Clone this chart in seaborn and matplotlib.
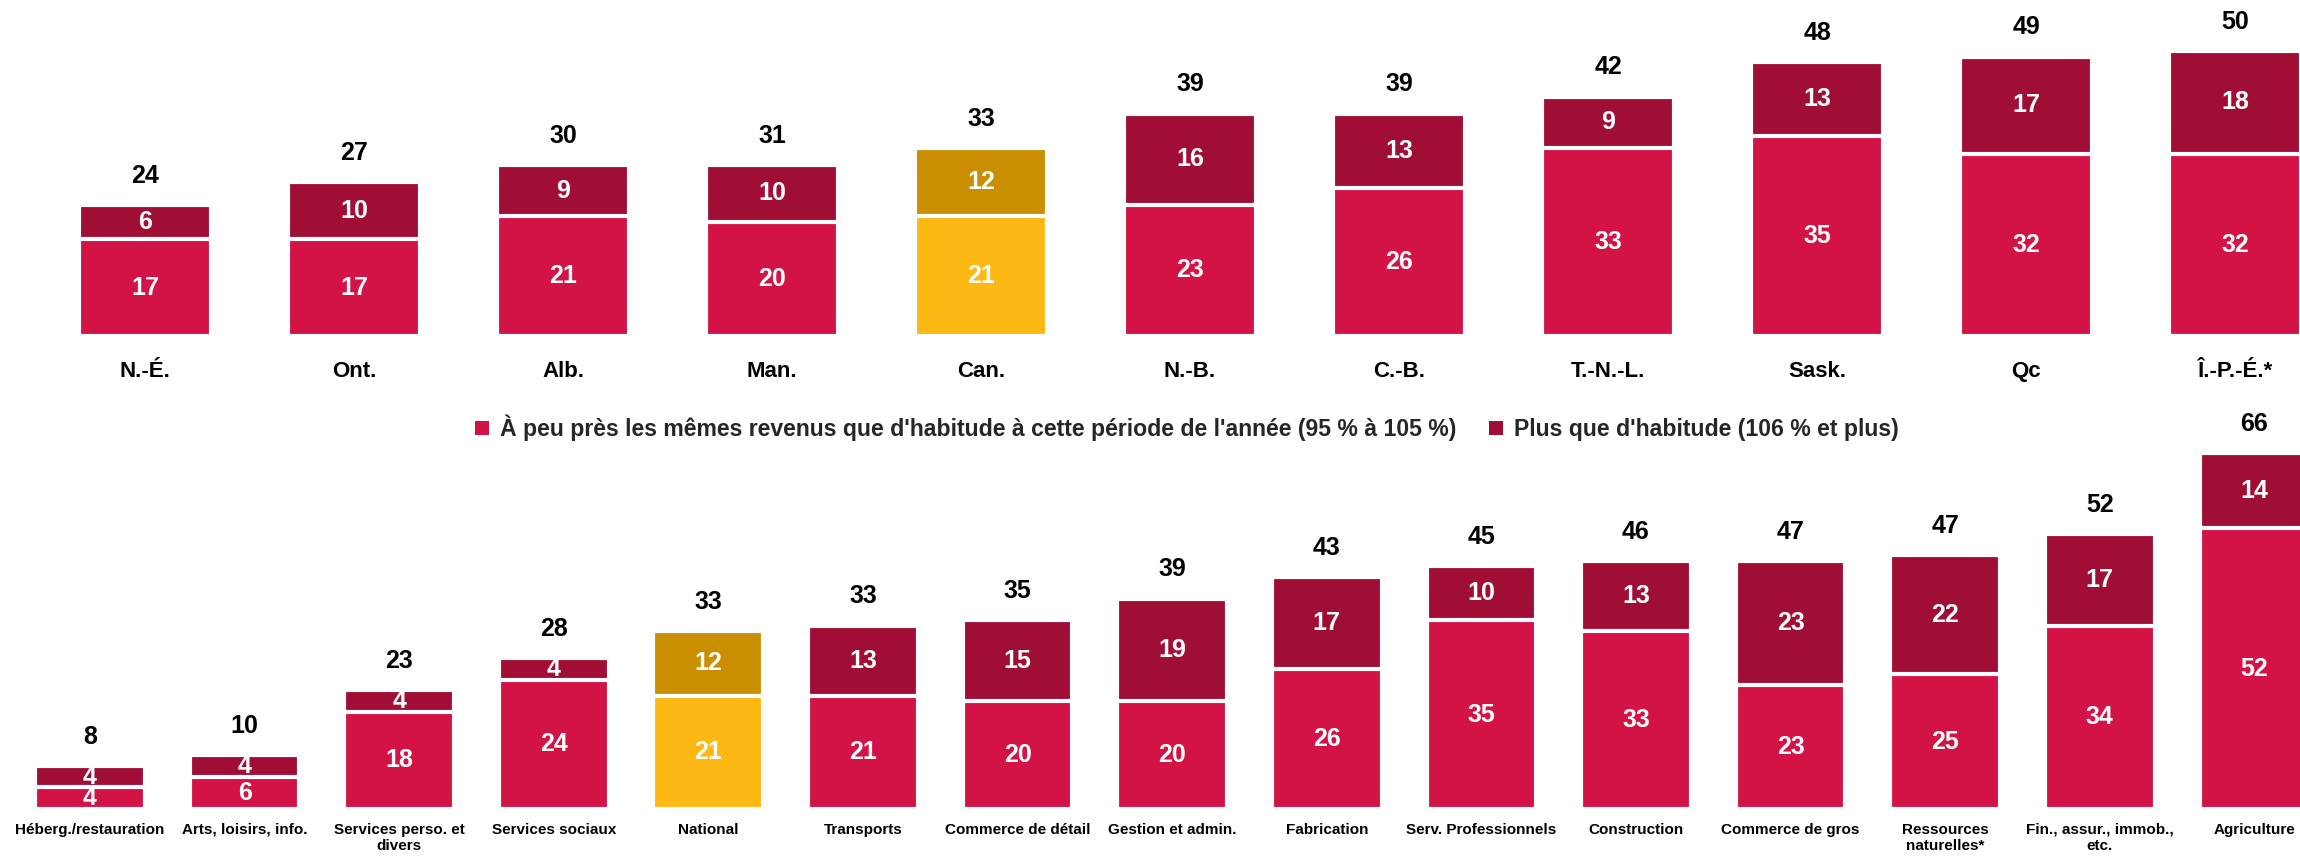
import matplotlib
matplotlib.use('Agg')
import matplotlib.pyplot as plt
from matplotlib.patches import Patch
import seaborn as sns

sns.set_theme(style='white')
plt.rcParams['font.family'] = ['Liberation Sans', 'DejaVu Sans']
plt.rcParams['font.weight'] = 'bold'

# provinces
prov = ['N.-É.', 'Ont.', 'Alb.', 'Man.', 'Can.', 'N.-B.', 'C.-B.', 'T.-N.-L.', 'Sask.', 'Qc', 'Î.-P.-É.*']
prov_same = [17, 17, 21, 20, 21, 23, 26, 33, 35, 32, 32]
prov_more = [6, 10, 9, 10, 12, 16, 13, 9, 13, 17, 18]
prov_total = [24, 27, 30, 31, 33, 39, 39, 42, 48, 49, 50]

# industries
ind = ['Héberg./restauration', 'Arts, loisirs, info.', 'Services perso. et\ndivers', 'Services sociaux',
       'National', 'Transports', 'Commerce de détail', 'Gestion et admin.', 'Fabrication',
       'Serv. Professionnels', 'Construction', 'Commerce de gros', 'Ressources\nnaturelles*',
       'Fin., assur., immob.,\netc.', 'Agriculture']
ind_same = [4, 6, 18, 24, 21, 21, 20, 20, 26, 35, 33, 23, 25, 34, 52]
ind_more = [4, 4, 4, 4, 12, 13, 15, 19, 17, 10, 13, 23, 22, 17, 14]
ind_total = [8, 10, 23, 28, 33, 33, 35, 39, 43, 45, 46, 47, 47, 52, 66]

RED = '#D31245'
DARK = '#A00D35'
YEL = '#FDB813'
GOLD = '#C98F00'
highlight = ['Can.', 'National']


def stacked(ax, cats, same, more, total, width, xlim, ylim, fs_in, fs_tick, pad):
    both = [a + b for a, b in zip(same, more)]
    pal_top = {c: (GOLD if c in highlight else DARK) for c in cats}
    pal_low = {c: (YEL if c in highlight else RED) for c in cats}
    # full stack first (dark), then the lower part over it
    sns.barplot(x=cats, y=both, hue=cats, palette=pal_top, legend=False, width=width,
                saturation=1, edgecolor='white', linewidth=3, ax=ax)
    sns.barplot(x=cats, y=same, hue=cats, palette=pal_low, legend=False, width=width,
                saturation=1, edgecolor='white', linewidth=3, ax=ax)
    for i in range(len(cats)):
        ax.text(i, same[i] / 2, str(same[i]), ha='center', va='center', color='white',
                fontsize=fs_in, fontweight='bold')
        ax.text(i, same[i] + more[i] / 2, str(more[i]), ha='center', va='center', color='white',
                fontsize=fs_in, fontweight='bold')
        ax.annotate(str(total[i]), (i, both[i]), xytext=(0, 21), textcoords='offset points',
                    ha='center', va='center', color='black', fontsize=fs_in, fontweight='bold')
    ax.set_xlim(*xlim)
    ax.set_ylim(*ylim)
    ax.set_yticks([])
    ax.set_xlabel('')
    ax.set_ylabel('')
    ax.tick_params(axis='x', length=0, pad=pad, labelsize=fs_tick, labelcolor='black')
    for s in ax.spines.values():
        s.set_visible(False)
    ax.patch.set_alpha(0)


fig = plt.figure(figsize=(23, 8.61), dpi=100)
ax1 = fig.add_axes([0, 0.6098, 1, 0.384])
ax2 = fig.add_axes([0, 0.0604, 1, 0.470])

stacked(ax1, prov, prov_same, prov_more, prov_total, 0.63, (-0.694, 10.311), (0, 58), 18, 16, 18)
stacked(ax2, ind, ind_same, ind_more, ind_total, 0.71, (-0.582, 14.295), (0, 75), 18, 11, 10)

handles = [Patch(facecolor=RED, edgecolor='none'), Patch(facecolor=DARK, edgecolor='none')]
names = ["À peu près les mêmes revenus que d'habitude à cette période de l'année (95 % à 105 %)",
         "Plus que d'habitude (106 % et plus)"]
fig.legend(handles, names, loc='center', bbox_to_anchor=(0.516, 0.503), ncol=2, frameon=False,
           handlelength=0.6, handleheight=0.6, handletextpad=0.5, columnspacing=1.4,
           prop={'weight': 'bold', 'size': 16.6})

fig.savefig('out.png', dpi=100)
